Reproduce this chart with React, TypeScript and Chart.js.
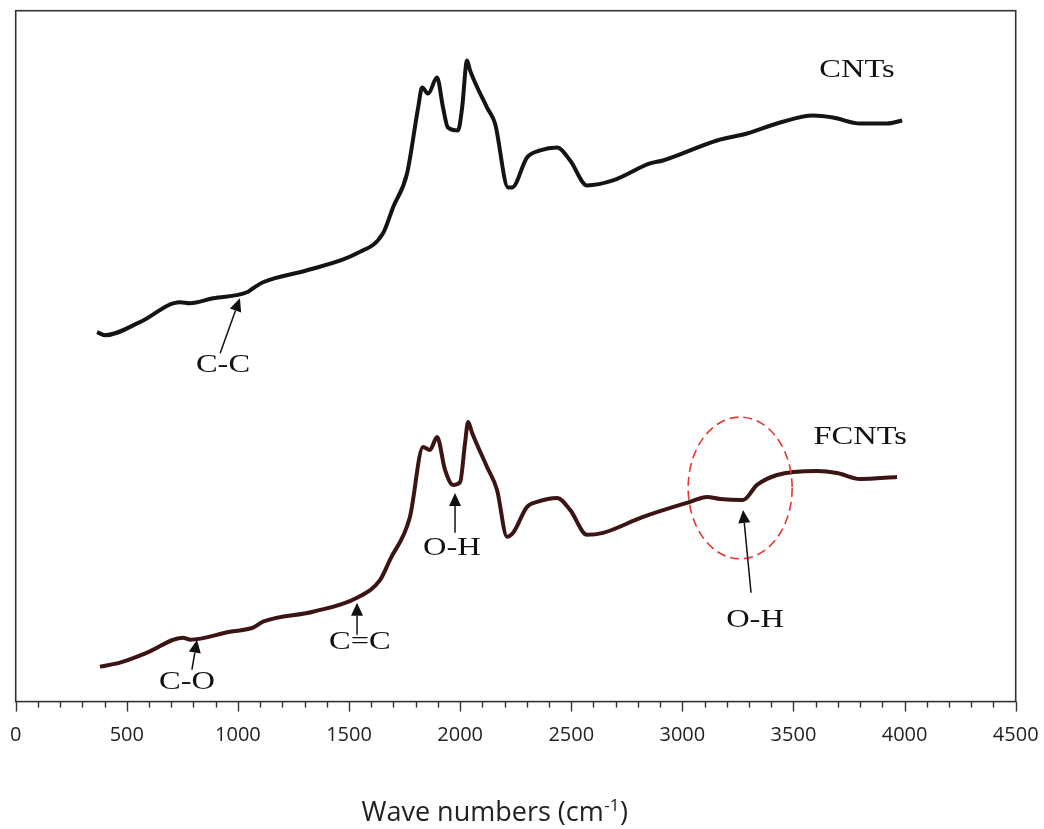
import { useEffect, useRef } from 'react';
import { Chart, registerables } from 'chart.js';

Chart.register(...registerables);

// Wave numbers (cm-1) and signal (arbitrary units)
const cntsWave = [366, 402, 559, 739, 784, 888, 1041, 1068, 1113, 1311, 1536, 1653, 1698, 1761, 1811, 1829, 1856, 1896, 1923, 1945, 1990, 2009, 2031, 2045, 2121, 2157, 2216, 2234, 2301, 2360, 2436, 2495, 2571, 2688, 2854, 2913, 3156, 3291, 3440, 3588, 3678, 3800, 3921, 3989];
const cntsSignal = [370, 367, 380, 400, 399, 404, 410, 414, 420, 432, 449, 469, 495, 529, 595, 615, 609, 625, 595, 575, 572, 595, 642, 632, 595, 579, 515, 515, 545, 552, 555, 542, 517, 522, 539, 542, 562, 569, 580, 587, 585, 579, 579, 582];

const fcntsWave = [379, 469, 591, 753, 784, 964, 1068, 1113, 1338, 1536, 1640, 1684, 1774, 1833, 1864, 1896, 1932, 1968, 2000, 2022, 2036, 2054, 2121, 2166, 2211, 2238, 2301, 2346, 2436, 2495, 2571, 2643, 2823, 3034, 3111, 3170, 3273, 3336, 3426, 3606, 3696, 3800, 3966];
const fcntsSignal = [35, 39, 49, 64, 62, 70, 74, 80, 90, 104, 122, 142, 185, 255, 252, 265, 232, 217, 220, 259, 280, 269, 235, 212, 165, 169, 195, 200, 204, 192, 167, 169, 185, 200, 205, 203, 202, 217, 227, 231, 229, 223, 225];

const majorTickLabels = ['0', '500', '1000', '1500', '2000', '2500', '3000', '3500', '4000', '4500'];
const xAxisTitleParts = ['Wave numbers (cm', '-1', ')'];

// Band annotations: arrow tip / tail and text anchor, in data coordinates
const bandLabels = ['C-C', 'C-O', 'C=C', 'O-H', 'O-H'];
const bandTips = [[1009, 404], [816, 62], [1536, 99], [1977, 209], [3273, 192]];
const bandTails = [[920, 349], [793, 32], [1536, 67], [1977, 169], [3309, 109]];
const bandTextAt = [[933, 337], [771, 19], [1549, 60], [1963, 154], [3327, 82]];

const seriesNames = ['CNTs', 'FCNTs'];
const seriesNameAt = [[3786, 632], [3800, 265]];

const highlightCenter = [3260, 214];
const highlightRadii = [234, 71];

const overlayPlugin = {
  id: 'overlay',
  afterDraw(chart: any) {
    const { ctx, chartArea, scales } = chart;
    const x = scales.x;
    const y = scales.y;
    ctx.save();
    // frame
    ctx.strokeStyle = '#333';
    ctx.lineWidth = 1.6;
    ctx.strokeRect(chartArea.left, chartArea.top, chartArea.right - chartArea.left, chartArea.bottom - chartArea.top);
    // tick marks
    ctx.lineWidth = 1.4;
    x.ticks.forEach((t: any) => {
      const px = Math.round(x.getPixelForValue(t.value)) + 0.5;
      const len = t.value % 500 === 0 ? 10 : 6;
      ctx.beginPath();
      ctx.moveTo(px, chartArea.bottom);
      ctx.lineTo(px, chartArea.bottom + len);
      ctx.stroke();
    });
    // x axis title with superscript
    {
      const mainFont = '27px "Open Sans", sans-serif';
      const supFont = '17px "Open Sans", sans-serif';
      ctx.fillStyle = '#222';
      ctx.textAlign = 'left';
      ctx.textBaseline = 'alphabetic';
      ctx.font = mainFont;
      const w0 = ctx.measureText(xAxisTitleParts[0]).width;
      const w2 = ctx.measureText(xAxisTitleParts[2]).width;
      ctx.font = supFont;
      const w1 = ctx.measureText(xAxisTitleParts[1]).width + 1;
      const total = w0 + w1 + w2;
      const cxTitle = chartArea.left + (chartArea.right - chartArea.left) * 0.479;
      let px = cxTitle - total / 2;
      const base = chartArea.bottom + 119;
      ctx.font = mainFont;
      ctx.fillText(xAxisTitleParts[0], px, base);
      px += w0;
      ctx.font = supFont;
      ctx.fillText(xAxisTitleParts[1], px + 0.5, base - 10);
      px += w1;
      ctx.font = mainFont;
      ctx.fillText(xAxisTitleParts[2], px, base);
    }
    // highlight ellipse
    const cx = x.getPixelForValue(highlightCenter[0]);
    const cy = y.getPixelForValue(highlightCenter[1]);
    const rx = Math.abs(x.getPixelForValue(highlightCenter[0] + highlightRadii[0]) - cx);
    const ry = Math.abs(y.getPixelForValue(highlightCenter[1] + highlightRadii[1]) - cy);
    ctx.strokeStyle = '#e8342e';
    ctx.lineWidth = 1.6;
    ctx.setLineDash([9, 5]);
    ctx.beginPath();
    ctx.ellipse(cx, cy, rx, ry, 0, 0, Math.PI * 2);
    ctx.stroke();
    ctx.setLineDash([]);
    // arrows and labels
    ctx.fillStyle = '#111';
    ctx.strokeStyle = '#111';
    ctx.font = '26px "Liberation Serif", "Times New Roman", serif';
    ctx.textAlign = 'center';
    ctx.textBaseline = 'middle';
    const drawText = (txt: string, px: number, py: number) => {
      ctx.save();
      ctx.translate(px, py);
      ctx.scale(1.25, 1);
      ctx.fillText(txt, 0, 0);
      ctx.restore();
    };
    bandLabels.forEach((txt, i) => {
      const tx = x.getPixelForValue(bandTips[i][0]);
      const ty = y.getPixelForValue(bandTips[i][1]);
      const sx = x.getPixelForValue(bandTails[i][0]);
      const sy = y.getPixelForValue(bandTails[i][1]);
      const ang = Math.atan2(ty - sy, tx - sx);
      const hl = 13;
      const hw = 6;
      const bx = tx - hl * Math.cos(ang);
      const by = ty - hl * Math.sin(ang);
      ctx.lineWidth = 1.5;
      ctx.beginPath();
      ctx.moveTo(sx, sy);
      ctx.lineTo(bx, by);
      ctx.stroke();
      ctx.beginPath();
      ctx.moveTo(tx, ty);
      ctx.lineTo(bx + hw * Math.sin(ang), by - hw * Math.cos(ang));
      ctx.lineTo(bx - hw * Math.sin(ang), by + hw * Math.cos(ang));
      ctx.closePath();
      ctx.fill();
      drawText(txt, x.getPixelForValue(bandTextAt[i][0]), y.getPixelForValue(bandTextAt[i][1]));
    });
    seriesNames.forEach((txt, i) => {
      drawText(txt, x.getPixelForValue(seriesNameAt[i][0]), y.getPixelForValue(seriesNameAt[i][1]));
    });
    ctx.restore();
  },
};

export default function App() {
  const ref = useRef<HTMLCanvasElement>(null);
  useEffect(() => {
    if (!ref.current) return;
    const chart = new Chart(ref.current, {
      type: 'line',
      data: {
        datasets: [
          {
            label: seriesNames[0],
            data: cntsWave.map((w, i) => ({ x: w, y: cntsSignal[i] })),
            borderColor: '#141414',
            borderWidth: 4,
            pointRadius: 0,
            cubicInterpolationMode: 'monotone',
            fill: false,
          },
          {
            label: seriesNames[1],
            data: fcntsWave.map((w, i) => ({ x: w, y: fcntsSignal[i] })),
            borderColor: '#3d1414',
            borderWidth: 4,
            pointRadius: 0,
            cubicInterpolationMode: 'monotone',
            fill: false,
          },
        ],
      },
      options: {
        responsive: false,
        animation: false,
        layout: { padding: { left: 15.7, right: 28.3, top: 10.7, bottom: 59.4 } },
        plugins: { legend: { display: false }, tooltip: { enabled: false } },
        scales: {
          x: {
            type: 'linear',
            min: 0,
            max: 4500,
            grid: { display: false, drawTicks: false },
            border: { display: false },
            afterFit: (scale: any) => {
              scale.paddingLeft = 0;
              scale.paddingRight = 0;
            },
            ticks: {
              stepSize: 100,
              autoSkip: false,
              maxRotation: 0,
              padding: 22,
              color: '#222',
              font: { family: '"Open Sans", sans-serif', size: 20 },
              callback: (v: any) => (Number(v) % 500 === 0 ? majorTickLabels[Number(v) / 500] : ''),
            },
          },
          y: {
            type: 'linear',
            display: false,
            min: 0,
            max: 692,
          },
        },
      },
      plugins: [overlayPlugin],
    });
    return () => chart.destroy();
  }, []);
  return (
    <div style={{ position: 'absolute', left: 0, top: 0, width: 1044, height: 829, background: '#fff' }}>
      <canvas ref={ref} width={1044} height={829} style={{ display: 'block' }} />
    </div>
  );
}
